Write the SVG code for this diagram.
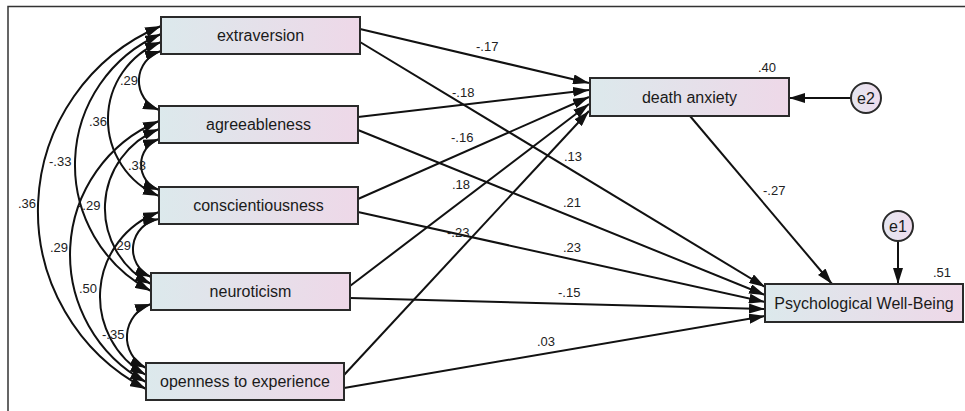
<svg xmlns="http://www.w3.org/2000/svg" width="965" height="411" viewBox="0 0 965 411">
<style>
.box{stroke:#2a2a2a;stroke-width:2;fill:url(#g)}
.circ{stroke:#2a2a2a;stroke-width:2;fill:url(#gc)}
.lbl{font-family:"Liberation Sans",Arial,sans-serif;font-size:16px;fill:#1a1a1a;text-anchor:middle}
.num{font-family:"Liberation Sans",Arial,sans-serif;font-size:13px;fill:#222}
.ln{fill:none;stroke:#111;stroke-width:2;marker-end:url(#ah)}
.cov{fill:none;stroke:#111;stroke-width:2;marker-start:url(#ah);marker-end:url(#ah)}
.frame{fill:none;stroke:#333;stroke-width:1.5}
</style>
<defs>
<linearGradient id="g" x1="0" y1="0" x2="1" y2="0">
<stop offset="0" stop-color="#dce9ec"/>
<stop offset="1" stop-color="#eed8e8"/>
</linearGradient>
<linearGradient id="gc" x1="0" y1="0" x2="1" y2="0">
<stop offset="0" stop-color="#e4e6f0"/>
<stop offset="1" stop-color="#efdcec"/>
</linearGradient>
<marker id="ah" viewBox="0 0 16 10" refX="16" refY="5" markerWidth="16" markerHeight="10" markerUnits="userSpaceOnUse" orient="auto-start-reverse">
<path d="M0,0 L16,5 L0,10 z" fill="#111"/>
</marker>
</defs>
<rect x="0" y="0" width="965" height="411" fill="#fff"/>
<path class="frame" d="M8,411 L8,6.5 L965,6.5"/>

<g id="connectors">
<!-- regressions -->
<path class="ln" d="M360,29 L589,83"/>
<path class="ln" d="M360,42 L765,287"/>
<path class="ln" d="M358,117 L589,90"/>
<path class="ln" d="M358,130 L765,295"/>
<path class="ln" d="M358,199 L589,97"/>
<path class="ln" d="M358,212 L765,302"/>
<path class="ln" d="M350,286 L589,104"/>
<path class="ln" d="M350,298 L765,309"/>
<path class="ln" d="M344,375 L589,111"/>
<path class="ln" d="M344,388 L765,316"/>
<path class="ln" d="M690,116 L832,284"/>
<path class="ln" d="M851,98 L789,98"/>
<path class="ln" d="M898,241 L898,284"/>
<!-- covariances -->
<path class="cov" d="M161,26 A200.6,200.6 0 0 0 146,389"/>
<path class="cov" d="M161,34 A142.6,142.6 0 0 0 151,291"/>
<path class="cov" d="M161,42 A83,83 0 0 0 159,196"/>
<path class="cov" d="M161,51 A31.2,31.2 0 0 0 159,110"/>
<path class="cov" d="M159,139 A27.1,27.1 0 0 0 159,190"/>
<path class="cov" d="M159,121 A144.8,144.8 0 0 0 146,382"/>
<path class="cov" d="M159,129 A85.2,85.2 0 0 0 151,284"/>
<path class="cov" d="M159,219 A30.5,30.5 0 0 0 151,277"/>
<path class="cov" d="M159,212 A90,90 0 0 0 146,375"/>
<path class="cov" d="M151,304 A34.7,34.7 0 0 0 146,368"/>
</g>

<g id="path-labels">
<text class="num" x="476" y="51">-.17</text>
<text class="num" x="452" y="97">-.18</text>
<text class="num" x="451" y="142">-.16</text>
<text class="num" x="564" y="161">.13</text>
<text class="num" x="452" y="189">.18</text>
<text class="num" x="563" y="207">.21</text>
<text class="num" x="447" y="237">-.23</text>
<text class="num" x="563" y="252">.23</text>
<text class="num" x="558" y="297">-.15</text>
<text class="num" x="537" y="346">.03</text>
<text class="num" x="763" y="195">-.27</text>
<text class="num" x="758" y="72">.40</text>
<text class="num" x="933" y="277">.51</text>
<text class="num" x="120" y="85">.29</text>
<text class="num" x="89" y="125.5">.36</text>
<text class="num" x="49" y="165.5">-.33</text>
<text class="num" x="128" y="170">.33</text>
<text class="num" x="18" y="208">.36</text>
<text class="num" x="78" y="210">-.29</text>
<text class="num" x="50" y="252">.29</text>
<text class="num" x="113" y="250">.29</text>
<text class="num" x="79" y="293">.50</text>
<text class="num" x="102" y="339">-.35</text>
</g>

<g id="extraversion"><rect class="box" x="161" y="17" width="199" height="37"/><text class="lbl" x="260.5" y="41">extraversion</text></g>
<g id="agreeableness"><rect class="box" x="159" y="106" width="199" height="37"/><text class="lbl" x="258.5" y="130">agreeableness</text></g>
<g id="conscientiousness"><rect class="box" x="159" y="187" width="199" height="37"/><text class="lbl" x="258.5" y="211">conscientiousness</text></g>
<g id="neuroticism"><rect class="box" x="151" y="273" width="199" height="37"/><text class="lbl" x="250.5" y="297">neuroticism</text></g>
<g id="openness"><rect class="box" x="146" y="363" width="198" height="37"/><text class="lbl" x="245" y="387">openness to experience</text></g>
<g id="death-anxiety"><rect class="box" x="590" y="78" width="199" height="38"/><text class="lbl" x="689.5" y="102.5">death anxiety</text></g>
<g id="pwb"><rect class="box" x="765" y="284" width="198" height="38"/><text class="lbl" x="864" y="308.5">Psychological Well-Being</text></g>
<g id="e2"><circle class="circ" cx="866" cy="98" r="15"/><text class="lbl" x="866" y="103.5">e2</text></g>
<g id="e1"><circle class="circ" cx="898" cy="226" r="15"/><text class="lbl" x="898" y="231.5">e1</text></g>
</svg>
